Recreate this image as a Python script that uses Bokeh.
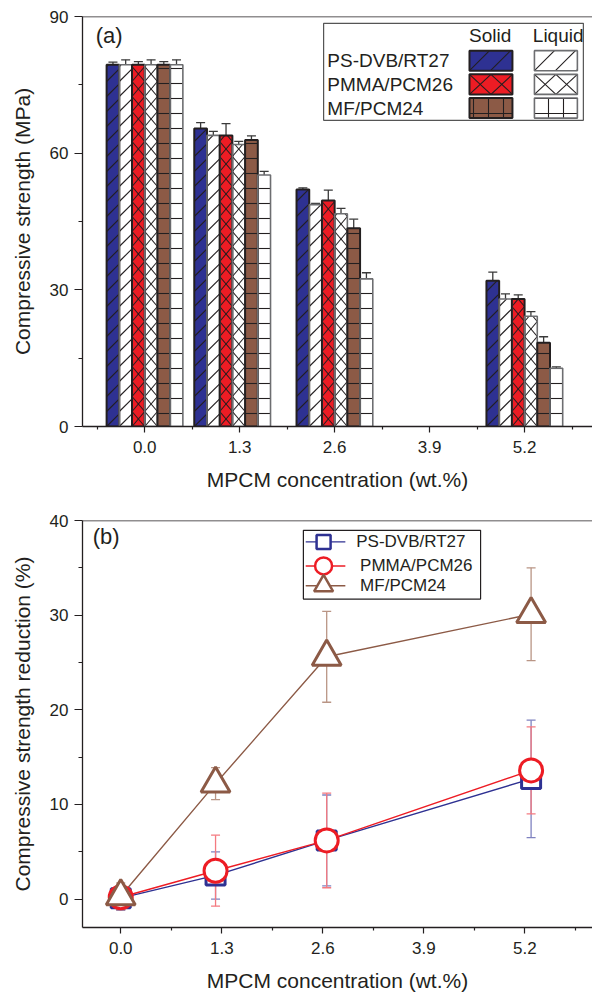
import numpy as np
from bokeh.plotting import figure
from bokeh.layouts import column
from bokeh.models import (ColumnDataSource, Whisker, TeeHead, FixedTicker,
                          CustomJSTickFormatter, Span, Range1d)
from bokeh.embed import file_html
from bokeh.resources import INLINE
from bokeh.core.properties import value

# ---------------- data ----------------
conc_ticks = [0.0, 1.3, 2.6, 3.9, 5.2]
conc_minor_a = [-0.65, 0.65, 1.95, 3.25, 4.55, 5.85]
conc_minor_b = [0.65, 1.95, 3.25, 4.55, 5.85]
series_names = ["PS-DVB/RT27", "PMMA/PCM26", "MF/PCM24"]
state_names = ["Solid", "Liquid"]

bar_x = [0.0, 1.2, 2.6, 5.2]
ps_solid = [79.4, 65.4, 52.0, 32.0]
ps_solid_err = [0.6, 1.3, 0.4, 1.9]
ps_liquid = [79.4, 63.9, 48.7, 28.0]
ps_liquid_err = [1.1, 0.9, 0.3, 1.1]
pm_solid = [79.4, 63.9, 49.6, 28.0]
pm_solid_err = [0.7, 2.6, 2.3, 0.9]
pm_liquid = [79.4, 61.9, 46.7, 24.2]
pm_liquid_err = [1.1, 0.7, 1.2, 1.0]
mf_solid = [79.4, 62.9, 43.5, 18.4]
mf_solid_err = [0.7, 0.9, 2.0, 1.3]
mf_liquid = [79.4, 55.2, 32.4, 12.8]
mf_liquid_err = [1.1, 0.8, 1.35, 0.3]

red_x = [0.0, 1.22, 2.65, 5.28]
ps_red = [0.1, 2.5, 6.2, 12.7]
ps_red_err = [1.3, 2.5, 4.8, 6.2]
pm_red = [0.2, 3.0, 6.2, 13.6]
pm_red_err = [1.3, 3.75, 5.0, 4.6]
mf_red = [0.3, 12.2, 25.6, 30.1]
mf_red_err = [1.4, 1.7, 4.8, 4.9]

# ---------------- style ----------------
FONT = "Liberation Sans"
TXT = "#231f20"
BLUE = "#2e3192"
RED = "#ed1c24"
BROWN = "#8c5a46"
LGRAY = "#6d6e71"

XA0, XA1 = -0.852, 6.13
YA0, YA1 = 0.0, 90.0
KX = 510.0 / (XA1 - XA0)   # px per x unit (panel a frame width 510)
KY = 410.0 / (YA1 - YA0)   # px per y unit (panel a frame height 410)


def hatch_lines(x0, x1, y0, y1, m, s, direction, out):
    """Append hatch segments (data coords) for a rectangle; slope m in pixel space."""
    X0, X1, Y0, Y1 = x0 * KX, x1 * KX, y0 * KY, y1 * KY
    Xa = X0 if direction > 0 else X1
    mm = m * direction
    kmin = int(np.floor(-(m * (X1 - X0)) / s)) - 1
    kmax = int(np.ceil((Y1 - Y0) / s)) + 1
    for k in range(kmin, kmax + 1):
        c = Y0 + k * s
        xa = Xa + (Y0 - c) / mm
        xb = Xa + (Y1 - c) / mm
        lo = max(min(xa, xb), X0)
        hi = min(max(xa, xb), X1)
        if hi - lo > 0.4:
            ya = mm * (lo - Xa) + c
            yb = mm * (hi - Xa) + c
            out[0].append(lo / KX); out[1].append(ya / KY)
            out[2].append(hi / KX); out[3].append(yb / KY)


def style_axes(p, xtick_out=6, ytick_out=8):
    for ax in (p.xaxis[0], p.yaxis[0]):
        ax.axis_line_color = TXT
        ax.axis_line_width = 1.3
        ax.major_tick_line_color = TXT
        ax.minor_tick_line_color = TXT
        ax.major_tick_line_width = 1.2
        ax.minor_tick_line_width = 1.2
        ax.major_tick_in = 0
        ax.minor_tick_in = 0
        ax.major_label_text_font = FONT
        ax.major_label_text_font_size = "17px"
        ax.major_label_text_color = TXT
        ax.axis_label_text_font = FONT
        ax.axis_label_text_font_size = "21px"
        ax.axis_label_text_font_style = "normal"
        ax.axis_label_text_color = TXT
    p.xaxis[0].major_tick_out = xtick_out
    p.xaxis[0].minor_tick_out = 3
    p.yaxis[0].major_tick_out = ytick_out
    p.yaxis[0].minor_tick_out = 4
    p.xaxis[0].major_label_standoff = 8
    p.xaxis[0].axis_label_standoff = 12
    p.yaxis[0].major_label_standoff = 6
    p.yaxis[0].axis_label_standoff = 13
    p.xgrid.grid_line_color = None
    p.ygrid.grid_line_color = None
    p.outline_line_color = None
    p.background_fill_color = "white"
    p.border_fill_color = "white"


# ================= panel (a) =================
pa = figure(width=592, height=505, output_backend="svg", toolbar_location=None,
            x_range=Range1d(XA0, XA1), y_range=Range1d(YA0, YA1),
            min_border_left=82, min_border_right=0, min_border_top=16,
            min_border_bottom=79)
style_axes(pa)
pa.xaxis.axis_label = "MPCM concentration (wt.%)"
pa.yaxis.axis_label = "Compressive strength (MPa)"
pa.xaxis.ticker = FixedTicker(ticks=conc_ticks, minor_ticks=conc_minor_a)
pa.xaxis.formatter = CustomJSTickFormatter(code="return tick.toFixed(1)")
pa.yaxis.ticker = FixedTicker(ticks=[0, 30, 60, 90], minor_ticks=[15, 45, 75])
pa.add_layout(Span(location=90, dimension="width", line_color=TXT, line_width=1.3))

w = 0.174
wpx = w * KX
bar_series = [
    (ps_solid, ps_solid_err, BLUE, "diag", TXT, 2.0),
    (ps_liquid, ps_liquid_err, "white", "diag", LGRAY, 1.6),
    (pm_solid, pm_solid_err, RED, "cross", TXT, 2.0),
    (pm_liquid, pm_liquid_err, "white", "cross", LGRAY, 1.6),
    (mf_solid, mf_solid_err, BROWN, "-", TXT, 2.0),
    (mf_liquid, mf_liquid_err, "white", "-", LGRAY, 1.6),
]
seg = ([], [], [], [])
for i, (vals, errs, fc, hp, lc, lw) in enumerate(bar_series):
    xs = [g + (i - 2.5) * w for g in bar_x]
    if hp == "-":
        pa.vbar(x=xs, top=vals, bottom=0, width=w, fill_color=fc, line_color=None,
                hatch_pattern="-", hatch_color=TXT, hatch_scale=15, hatch_weight=1.1)
    else:
        pa.vbar(x=xs, top=vals, bottom=0, width=w, fill_color=fc, line_color=None)
        for xc, v in zip(xs, vals):
            if hp == "diag":
                hatch_lines(xc - w / 2, xc + w / 2, 0, v, 1.0, 15, 1, seg)
            else:
                hatch_lines(xc - w / 2, xc + w / 2, 0, v, 15.0 / wpx, 15, 1, seg)
                hatch_lines(xc - w / 2, xc + w / 2, 0, v, 15.0 / wpx, 15, -1, seg)
pa.segment(x0=seg[0], y0=seg[1], x1=seg[2], y1=seg[3], line_color=TXT, line_width=1.1)
for i, (vals, errs, fc, hp, lc, lw) in enumerate(bar_series):
    xs = [g + (i - 2.5) * w for g in bar_x]
    pa.vbar(x=xs, top=vals, bottom=0, width=w, fill_color=None, line_color=lc,
            line_width=lw)
for i, (vals, errs, fc, hp, lc, lw) in enumerate(bar_series):
    xs = [g + (i - 2.5) * w for g in bar_x]
    src = ColumnDataSource(dict(x=xs,
                                upper=[v + e for v, e in zip(vals, errs)],
                                lower=[v - e for v, e in zip(vals, errs)]))
    pa.add_layout(Whisker(source=src, base="x", upper="upper", lower="lower",
                          line_color="#3a3a3a", line_width=1.3,
                          upper_head=TeeHead(size=9, line_color="#3a3a3a", line_width=1.3),
                          lower_head=TeeHead(size=9, line_color="#3a3a3a", line_width=1.3)))

pa.text(x=[-0.67], y=[88.6], text=["(a)"], text_font=value(FONT),
        text_font_size="22px", text_color=TXT, text_baseline="top", text_align="left")

# legend (a) drawn in data space
pa.quad(left=[2.449], right=[6.005], top=[88.5], bottom=[67.2],
        fill_color="white", line_color="#555555", line_width=1.2)
pa.text(x=[4.73, 5.66], y=[85.8, 85.8], text=state_names, text_font=value(FONT),
        text_font_size="19px", text_color=TXT, text_baseline="middle",
        text_align="center")
row_c = [80.3, 75.1, 69.9]
pa.text(x=[2.50] * 3, y=row_c, text=series_names, text_font=value(FONT),
        text_font_size="19px", text_color=TXT, text_baseline="middle",
        text_align="left")
sw_fill = [BLUE, RED, BROWN]
sw_kind = ["diag", "cross", "grid"]
cols = [(4.446, 5.034, None, TXT, 2.0), (5.335, 5.923, "white", LGRAY, 1.6)]
lseg = ([], [], [], [])
for r in range(3):
    yc = row_c[r]
    yb, yt = yc - 2.2, yc + 2.2
    for ci, (l, rr, fcol, lc, lw) in enumerate(cols):
        fc = sw_fill[r] if fcol is None else fcol
        if sw_kind[r] == "grid":
            pa.quad(left=[l], right=[rr], top=[yt], bottom=[yb], fill_color=fc,
                    line_color=None, hatch_pattern="+", hatch_color=TXT,
                    hatch_scale=15, hatch_weight=1.1)
        else:
            pa.quad(left=[l], right=[rr], top=[yt], bottom=[yb], fill_color=fc,
                    line_color=None)
            hpx = (yt - yb) * KY
            if sw_kind[r] == "diag":
                hatch_lines(l, rr, yb, yt, 1.0, 21, 1, lseg)
            else:
                half = (rr - l) * KX / 2
                hatch_lines(l, rr, yb, yt, hpx / half, hpx, 1, lseg)
                hatch_lines(l, rr, yb, yt, hpx / half, hpx, -1, lseg)
pa.segment(x0=lseg[0], y0=lseg[1], x1=lseg[2], y1=lseg[3], line_color=TXT, line_width=1.1)
for r in range(3):
    yc = row_c[r]
    for ci, (l, rr, fcol, lc, lw) in enumerate(cols):
        pa.quad(left=[l], right=[rr], top=[yc + 2.2], bottom=[yc - 2.2],
                fill_color=None, line_color=lc, line_width=lw)

# ================= panel (b) =================
pb = figure(width=592, height=489, output_backend="svg", toolbar_location=None,
            x_range=Range1d(-0.492, 6.07), y_range=Range1d(-3, 40),
            min_border_left=82, min_border_right=0, min_border_top=15,
            min_border_bottom=64)
style_axes(pb)
pb.xaxis.axis_label = "MPCM concentration (wt.%)"
pb.yaxis.axis_label = "Compressive strength reduction (%)"
pb.xaxis.ticker = FixedTicker(ticks=conc_ticks, minor_ticks=conc_minor_b)
pb.xaxis.formatter = CustomJSTickFormatter(code="return tick.toFixed(1)")
pb.yaxis.ticker = FixedTicker(ticks=[0, 10, 20, 30, 40], minor_ticks=[5, 15, 25, 35])
pb.add_layout(Span(location=40, dimension="width", line_color=TXT, line_width=1.3))

lines_b = [
    (ps_red, ps_red_err, BLUE, "#7f82c0", "square", 19),
    (pm_red, pm_red_err, RED, "#f47a80", "circle", 23),
    (mf_red, mf_red_err, BROWN, "#b99585", "triangle", 29),
]
for vals, errs, c, ec, mk, sz in lines_b:
    pb.line(red_x, vals, line_color=c, line_width=1.4)
for vals, errs, c, ec, mk, sz in lines_b:
    src = ColumnDataSource(dict(x=red_x,
                                upper=[v + e for v, e in zip(vals, errs)],
                                lower=[v - e for v, e in zip(vals, errs)]))
    pb.add_layout(Whisker(source=src, base="x", upper="upper", lower="lower",
                          line_color=ec, line_width=1.3,
                          upper_head=TeeHead(size=9, line_color=ec, line_width=1.3),
                          lower_head=TeeHead(size=9, line_color=ec, line_width=1.3)))
    pb.scatter(red_x, vals, marker=mk, size=sz, fill_color="white",
               line_color=c, line_width=3)

pb.text(x=[-0.36], y=[39.6], text=["(b)"], text_font=value(FONT),
        text_font_size="22px", text_color=TXT, text_baseline="top", text_align="left")

# legend (b)
pb.quad(left=[2.35], right=[4.63], top=[38.96], bottom=[31.7],
        fill_color="white", line_color=TXT, line_width=1.2)
leg_y = [37.74, 35.2, 33.1]
leg_sizes = [14, 17, 19]
for r, (vals, errs, c, ec, mk, sz) in enumerate(lines_b):
    pb.line([2.38, 2.89], [leg_y[r]] * 2, line_color=c, line_width=1.4)
    pb.scatter([2.61], [leg_y[r]], marker=mk, size=leg_sizes[r], fill_color="white",
               line_color=c, line_width=2.5)
pb.text(x=[3.03, 3.08, 3.08], y=leg_y, text=series_names, text_font=value(FONT),
        text_font_size="17px", text_color=TXT, text_baseline="middle", text_align="left")

layout = column(pa, pb, spacing=0)
open("out.html", "w").write(file_html(layout, INLINE))
